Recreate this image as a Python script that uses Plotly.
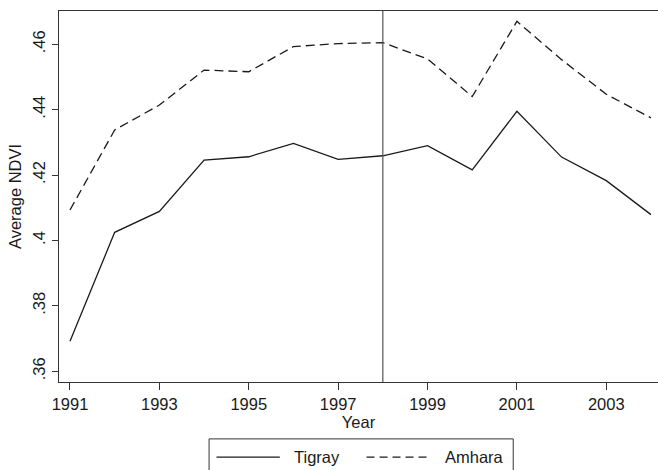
import plotly.graph_objects as go

years = list(range(1991, 2005))
tigray = [0.3692, 0.4025, 0.4089, 0.4246, 0.4256, 0.4297, 0.4248,
          0.4259, 0.4290, 0.4216, 0.4395, 0.4255, 0.4183, 0.4079]
amhara = [0.4093, 0.4338, 0.4414, 0.4521, 0.4516, 0.4593, 0.4602,
          0.4605, 0.4555, 0.4440, 0.4670, 0.4553, 0.4447, 0.4375]
x_ticks = [1991, 1993, 1995, 1997, 1999, 2001, 2003]
y_ticks = [0.36, 0.38, 0.40, 0.42, 0.44, 0.46]
y_ticktext = [".36", ".38", ".4", ".42", ".44", ".46"]
event_year = 1998
series_names = ["Tigray", "Amhara"]

FONT = "Liberation Sans, Arial, sans-serif"
FS = 16.5
INK = "#1a1a1a"

W, H = 658, 470
ml, mr, mt, mb = 59.3, 0, 11.3, 88.3
pw = W - ml - mr
ph = H - mt - mb

def px_x(p):
    return (p - ml) / pw

def px_y(p):
    return (H - mb - p) / ph

fig = go.Figure()
fig.add_trace(go.Scatter(x=years, y=tigray, mode="lines", name=series_names[0],
                         line=dict(color=INK, width=1.3), showlegend=False))
fig.add_trace(go.Scatter(x=years, y=amhara, mode="lines", name=series_names[1],
                         line=dict(color=INK, width=1.3, dash="9px,5px"), showlegend=False))

shapes = [
    dict(type="line", xref="x", yref="paper", x0=event_year, x1=event_year, y0=0, y1=1,
         line=dict(color="#555555", width=1.2)),
    # legend box
    dict(type="rect", xref="paper", yref="paper", x0=px_x(209.3), x1=px_x(513.3),
         y0=px_y(438.5), y1=px_y(480), line=dict(color="#333333", width=1)),
    dict(type="line", xref="paper", yref="paper", x0=px_x(216.7), x1=px_x(280),
         y0=px_y(456.7), y1=px_y(456.7), line=dict(color=INK, width=1.3)),
    dict(type="line", xref="paper", yref="paper", x0=px_x(366.7), x1=px_x(428),
         y0=px_y(456.7), y1=px_y(456.7), line=dict(color=INK, width=1.3, dash="8px,5px")),
]
annotations = [
    dict(xref="paper", yref="paper", x=px_x(291.7), y=px_y(456.7), text=series_names[0],
         showarrow=False, xanchor="left", yanchor="middle",
         font=dict(family=FONT, size=FS, color=INK)),
    dict(xref="paper", yref="paper", x=px_x(442.7), y=px_y(456.7), text=series_names[1],
         showarrow=False, xanchor="left", yanchor="middle",
         font=dict(family=FONT, size=FS, color=INK)),
]

fig.update_layout(
    width=W, height=H,
    margin=dict(l=ml, r=mr, t=mt, b=mb, pad=0, autoexpand=False),
    paper_bgcolor="white", plot_bgcolor="white",
    font=dict(family=FONT, size=FS, color=INK),
    shapes=shapes, annotations=annotations,
    showlegend=False,
    xaxis=dict(range=[1990.754, 2004.157], tickvals=x_ticks, ticks="outside", ticklen=7,
               tickcolor="#333333", showline=True, linecolor="#333333", linewidth=1,
               mirror=True, showgrid=False, zeroline=False, automargin=False,
               title=dict(text="Year", standoff=2, font=dict(size=FS))),
    yaxis=dict(range=[0.35672, 0.47017], tickvals=y_ticks, ticktext=y_ticktext,
               ticks="outside", ticklen=6, tickcolor="#333333", tickangle=-90,
               showline=True, linecolor="#333333", linewidth=1, showgrid=False,
               zeroline=False, automargin=False,
               title=dict(text="Average NDVI", standoff=4, font=dict(size=FS))),
)

fig.write_html("out.html", config={"displayModeBar": False},
               post_script="document.body.style.margin='0';document.body.style.overflow='hidden';")
